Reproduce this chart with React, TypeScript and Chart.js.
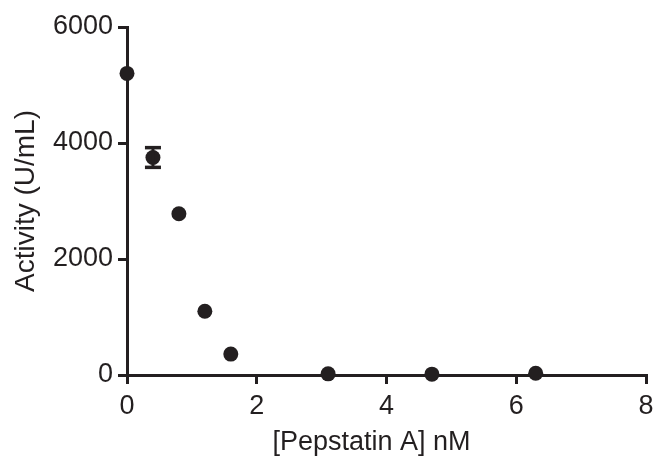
import React, { useEffect, useRef } from "react";
import { Chart, registerables } from "chart.js";

Chart.register(...registerables);

const concentrations = [0, 0.4, 0.8, 1.2, 1.6, 3.1, 4.7, 6.3];
const activity = [5200, 3750, 2780, 1100, 360, 20, 15, 30];
const activityError = [0, 170, 0, 0, 0, 0, 0, 0];

const xTicks = [0, 2, 4, 6, 8];
const yTicks = [0, 2000, 4000, 6000];

const INK = "#231f20";
const FONT = "'Liberation Sans', Arial, Helvetica, sans-serif";

const errorBarPlugin = {
  id: "errorBars",
  afterDatasetsDraw(chart: any) {
    const { ctx, scales } = chart;
    const xs = scales.x;
    const ys = scales.y;
    ctx.save();
    ctx.strokeStyle = INK;
    ctx.fillStyle = INK;
    concentrations.forEach((xv, i) => {
      const e = activityError[i];
      if (!e) return;
      const px = xs.getPixelForValue(xv);
      const top = ys.getPixelForValue(activity[i] + e);
      const bot = ys.getPixelForValue(activity[i] - e);
      ctx.lineWidth = 3;
      ctx.beginPath();
      ctx.moveTo(px, top);
      ctx.lineTo(px, bot);
      ctx.stroke();
      const half = 8;
      ctx.fillRect(px - half, top - 1.75, half * 2, 3.5);
      ctx.fillRect(px - half, bot - 1.75, half * 2, 3.5);
    });
    ctx.restore();
  },
};

export default function App() {
  const ref = useRef<HTMLCanvasElement | null>(null);

  useEffect(() => {
    if (!ref.current) return;
    const chart = new Chart(ref.current, {
      type: "scatter",
      data: {
        datasets: [
          {
            data: concentrations.map((x, i) => ({ x, y: activity[i] })),
            pointRadius: 7.5,
            pointHoverRadius: 7.5,
            pointBackgroundColor: INK,
            pointBorderWidth: 0,
            borderColor: INK,
            showLine: false,
            clip: false as any,
          },
        ],
      },
      options: {
        animation: false,
        responsive: false,
        maintainAspectRatio: false,
        events: [],
        layout: { padding: { top: 27, right: 10, left: 0, bottom: 0 } },
        plugins: {
          legend: { display: false },
          tooltip: { enabled: false },
        },
        scales: {
          x: {
            type: "linear",
            min: 0,
            max: 8,
            afterFit(scale: any) {
              scale.height = 84;
              scale.paddingRight = 0;
            },
            afterBuildTicks(scale: any) {
              scale.ticks = xTicks.map((v) => ({ value: v }));
            },
            border: { display: true, color: INK, width: 3 },
            grid: {
              display: true,
              drawOnChartArea: false,
              drawTicks: true,
              tickLength: 9,
              lineWidth: 3,
              color: INK,
            },
            ticks: {
              color: INK,
              padding: 6,
              font: { family: FONT, size: 27 },
              maxRotation: 0,
              callback: (v: any) => String(v),
            },
            title: {
              display: true,
              text: "[Pepstatin A] nM    ",
              color: INK,
              font: { family: FONT, size: 27 },
              padding: { top: 0, bottom: 0 },
            },
          },
          y: {
            type: "linear",
            min: 0,
            max: 6000,
            afterFit(scale: any) {
              scale.width = 127;
            },
            afterBuildTicks(scale: any) {
              scale.ticks = yTicks.map((v) => ({ value: v }));
            },
            border: { display: true, color: INK, width: 3 },
            grid: {
              display: true,
              drawOnChartArea: false,
              drawTicks: true,
              tickLength: 9,
              lineWidth: 3,
              color: INK,
            },
            ticks: {
              color: INK,
              padding: 5,
              font: { family: FONT, size: 27 },
              callback: (v: any) => String(v),
            },
            title: {
              display: true,
              text: "Activity (U/mL)",
              color: INK,
              font: { family: FONT, size: 28 },
              padding: { top: 9, bottom: 0 },
            },
          },
        },
      },
      plugins: [errorBarPlugin],
    });
    return () => chart.destroy();
  }, []);

  return (
    <div
      style={{
        position: "fixed",
        left: 0,
        top: 0,
        width: 656,
        height: 459,
        background: "#ffffff",
      }}
    >
      <canvas ref={ref} width={656} height={459} style={{ width: 656, height: 459 }} />
    </div>
  );
}
